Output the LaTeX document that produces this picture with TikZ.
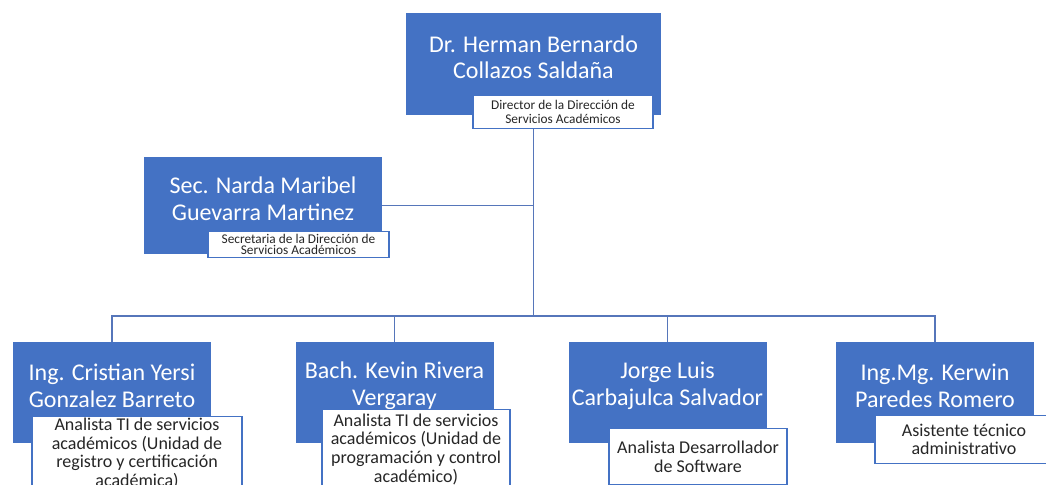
\documentclass[tikz,border=0pt]{standalone}
\usepackage{fontspec}
\setmainfont{Carlito}
\usetikzlibrary{positioning}
\usetikzlibrary{backgrounds}

\definecolor{boxblue}{RGB}{68,114,196}
\definecolor{lineblue}{RGB}{86,118,186}
\definecolor{rolegray}{RGB}{38,38,38}

\tikzset{
  namebox/.style={rectangle, fill=boxblue, inner sep=0pt},
  nametext/.style={text=white, align=center, inner sep=0pt,
    font=\fontsize{18}{20}\selectfont},
  rolebox/.style={rectangle, draw=boxblue, line width=0.8pt, fill=white,
    text=rolegray, align=center, inner sep=0pt, anchor=north,
    font=\fontsize{13.5}{14}\selectfont},
  link/.style={draw=lineblue, line width=1pt},
}

\begin{document}
\begin{tikzpicture}[x=0.75pt, y=-0.75pt]
  \path[use as bounding box, clip] (0,0) rectangle (1046,485);

  % Director
  \node[namebox, minimum width=191.25pt, minimum height=76.5pt] (dir) at (533.5,64) {};
  \node[nametext] (dirname) at ([yshift=5pt]dir.center) {Dr. Herman Bernardo\\Collazos Saldaña};
  \node[rolebox, minimum width=135pt, minimum height=24.75pt,
    font=\fontsize{10}{10}\selectfont] (dirrole) at (563,95)
    {Director de la Dirección de\\Servicios Académicos};

  % Secretaria
  \node[namebox, minimum width=178.5pt, minimum height=72.75pt] (sec) at (263,205.5) {};
  \node[nametext] (secname) at ([yshift=5pt]sec.center) {Sec. Narda Maribel\\Guevarra Martinez};
  \node[rolebox, minimum width=135.75pt, minimum height=19.5pt,
    font=\fontsize{10}{8.5}\selectfont] (secrole) at (298.5,231)
    {Secretaria de la Dirección de\\Servicios Académicos};

  % Equipo
  \node[namebox, minimum width=148.5pt, minimum height=75.75pt] (ana1) at (112,392.5) {};
  \node[nametext] (ana1name) at ([yshift=5pt]ana1.center) {Ing. Cristian Yersi\\Gonzalez Barreto};
  \node[rolebox, minimum width=157.5pt, minimum height=55.5pt] (ana1role) at (137,416)
    {Analista TI de servicios\\académicos (Unidad de\\registro y certificación\\académica)};

  \node[namebox, minimum width=148.5pt, minimum height=75.75pt] (ana2) at (394.5,392.5) {};
  \node[nametext] (ana2name) at ([yshift=5pt]ana2.center) {Bach. Kevin Rivera\\Vergaray};
  \node[rolebox, minimum width=141pt, minimum height=59.25pt] (ana2role) at (416,409)
    {Analista TI de servicios\\académicos (Unidad de\\programación y control\\académico)};

  \node[namebox, minimum width=148.5pt, minimum height=75.75pt] (dev) at (667.5,392.5) {};
  \node[nametext] (devname) at ([yshift=5pt]dev.center) {Jorge Luis\\Carbajulca Salvador};
  \node[rolebox, minimum width=133.5pt, minimum height=42pt] (devrole) at (698,428)
    {Analista Desarrollador\\de Software};

  \node[namebox, minimum width=148.5pt, minimum height=75.75pt] (asi) at (935,392.5) {};
  \node[nametext] (asiname) at ([yshift=5pt]asi.center) {Ing.Mg. Kerwin\\Paredes Romero};
  \node[rolebox, minimum width=133.5pt, minimum height=36pt] (asirole) at (964,415)
    {Asistente técnico\\administrativo};

  % Conectores
  \begin{scope}[on background layer]
    \fill[white] (0,0) rectangle (1046,485);
    \coordinate (bus) at (533.5,316);
    \draw[link] (dir.south) -- (bus);
    \draw[link] (sec.east) -- (sec.east -| dir.south);
    \foreach \n in {ana1,ana2,dev,asi}
      \draw[link] (bus) -| (\n.north);
  \end{scope}
\end{tikzpicture}
\end{document}
